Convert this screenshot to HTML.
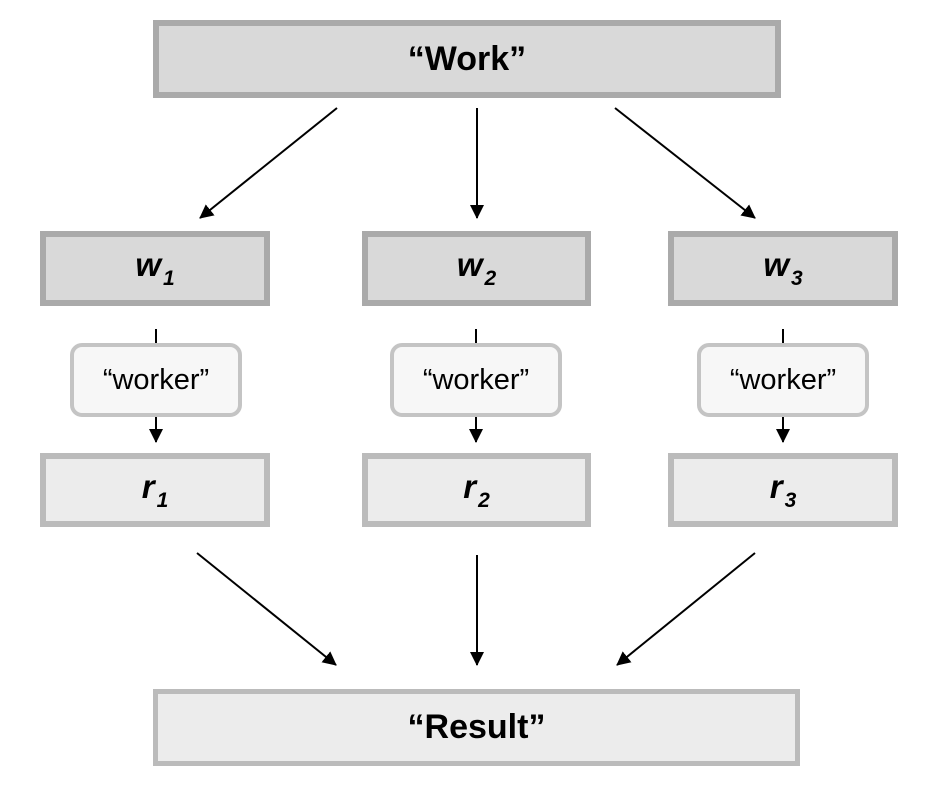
<!DOCTYPE html>
<html><head><style>
body{margin:0;background:#fff;width:933px;height:798px;overflow:hidden;position:relative;font-family:"Liberation Sans",Arial,sans-serif}
.b{position:absolute;box-sizing:border-box;display:flex;align-items:center;justify-content:center;color:#000}
.dk{background:#d9d9d9;border:6px solid #aaa}
.lt{background:#ececec;border:6px solid #bbb}
.wk{background:#f7f7f7;border:4px solid #c4c4c4;border-radius:12px;font-size:29px}
.v{font-weight:bold;font-style:italic;font-size:33px}
.v sub{font-size:21px;vertical-align:-9px;margin-left:2px}
</style></head><body>
<div class="b dk" style="left:153px;top:20px;width:628px;height:78px;font-weight:bold;font-size:34px"><span>“Work”</span></div>
<div class="b dk v" style="left:40px;top:231px;width:230px;height:75px"><span>w<sub>1</sub></span></div>
<div class="b dk v" style="left:362px;top:231px;width:229px;height:75px"><span>w<sub>2</sub></span></div>
<div class="b dk v" style="left:668px;top:231px;width:230px;height:75px"><span>w<sub>3</sub></span></div>
<div class="b wk" style="left:70px;top:343px;width:172px;height:74px"><span>“worker”</span></div>
<div class="b wk" style="left:390px;top:343px;width:172px;height:74px"><span>“worker”</span></div>
<div class="b wk" style="left:697px;top:343px;width:172px;height:74px"><span>“worker”</span></div>
<div class="b lt v" style="left:40px;top:453px;width:230px;height:74px"><span>r<sub>1</sub></span></div>
<div class="b lt v" style="left:362px;top:453px;width:229px;height:74px"><span>r<sub>2</sub></span></div>
<div class="b lt v" style="left:668px;top:453px;width:230px;height:74px"><span>r<sub>3</sub></span></div>
<div class="b lt" style="left:153px;top:689px;width:647px;height:77px;border-width:5px;font-weight:bold;font-size:34px"><span>“Result”</span></div>
<svg width="933" height="798" style="position:absolute;left:0;top:0">
<defs><marker id="s" markerWidth="14" markerHeight="14" refX="13" refY="7" orient="auto" markerUnits="userSpaceOnUse"><path d="M0,0 L14,7 L0,14 z" fill="#000"/></marker></defs>
<g stroke="#000" stroke-width="2" fill="none">
<line x1="337" y1="108" x2="200" y2="218" marker-end="url(#s)"/>
<line x1="477" y1="108" x2="477" y2="218" marker-end="url(#s)"/>
<line x1="615" y1="108" x2="755" y2="218" marker-end="url(#s)"/>
<line x1="197" y1="553" x2="336" y2="665" marker-end="url(#s)"/>
<line x1="477" y1="555" x2="477" y2="665" marker-end="url(#s)"/>
<line x1="755" y1="553" x2="617" y2="665" marker-end="url(#s)"/>
<line x1="156" y1="329" x2="156" y2="343"/>
<line x1="476" y1="329" x2="476" y2="343"/>
<line x1="783" y1="329" x2="783" y2="343"/>
<line x1="156" y1="417" x2="156" y2="442" marker-end="url(#s)"/>
<line x1="476" y1="417" x2="476" y2="442" marker-end="url(#s)"/>
<line x1="783" y1="417" x2="783" y2="442" marker-end="url(#s)"/>
</g></svg>
</body></html>
